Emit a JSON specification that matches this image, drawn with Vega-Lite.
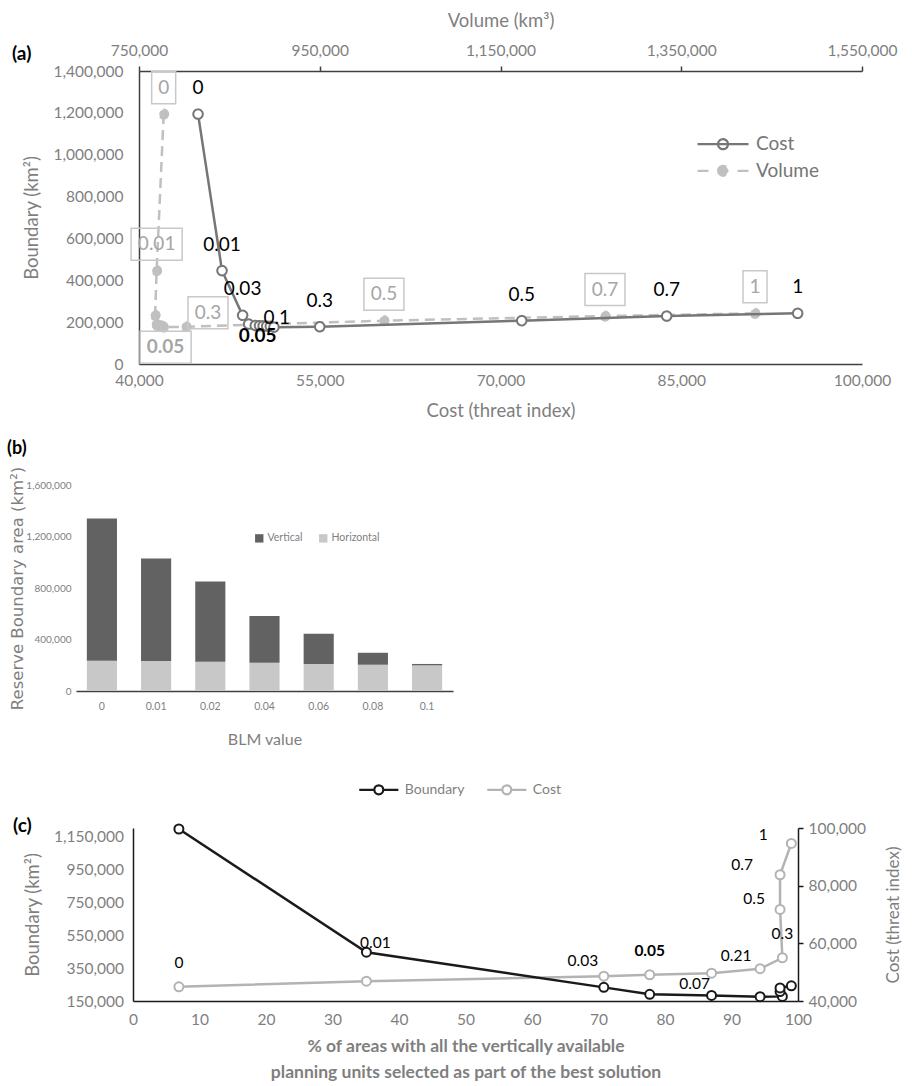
{
  "$schema": "https://vega.github.io/schema/vega-lite/v6.json",
  "padding": {"left": 7, "top": 11, "right": 5, "bottom": 5},
  "background": "white",
  "config": {
    "font": "Lato",
    "view": {"stroke": null},
    "axis": {"grid": false, "labelColor": "#7f7f7f", "titleColor": "#7f7f7f", "labelFlush": false, "labelOverlap": false, "labelBound": false, "titleFontWeight": "normal", "domainColor": "#404040", "domainWidth": 1.5, "tickColor": "#404040", "tickWidth": 1.5, "labelFont": "Lato", "titleFont": "Lato"},
    "legend": {"labelFont": "Lato", "labelColor": "#767676"},
    "title": {"anchor": "start", "frame": "group", "fontWeight": "bold", "fontSize": 19, "color": "#000000", "offset": 0, "font": "Lato"}
  },
  "datasets": {
    "frontier": [
      {"blm": 0, "cost": 44900, "volume": 777300, "boundary": 1194000},
      {"blm": 0.01, "cost": 46890, "volume": 769500, "boundary": 446000},
      {"blm": 0.03, "cost": 48600, "volume": 767800, "boundary": 232700},
      {"blm": 0.05, "cost": 49100, "volume": 769000, "boundary": 190600},
      {"blm": 0.07, "cost": 49650, "volume": 770500, "boundary": 184000},
      {"blm": 0.08, "cost": 50000, "volume": 772000, "boundary": 183000},
      {"blm": 0.09, "cost": 50300, "volume": 773500, "boundary": 182000},
      {"blm": 0.1, "cost": 50600, "volume": 775000, "boundary": 181000},
      {"blm": 0.15, "cost": 50900, "volume": 776000, "boundary": 180000},
      {"blm": 0.21, "cost": 51200, "volume": 777000, "boundary": 176000},
      {"blm": 0.3, "cost": 55000, "volume": 802000, "boundary": 178000},
      {"blm": 0.5, "cost": 71760, "volume": 1021000, "boundary": 207000},
      {"blm": 0.7, "cost": 83790, "volume": 1265600, "boundary": 229000},
      {"blm": 1, "cost": 94660, "volume": 1431600, "boundary": 242000}
    ],
    "bars": [
      {"blm": "0", "part": "Horizontal", "value": 235000},
      {"blm": "0", "part": "Vertical", "value": 1105000},
      {"blm": "0.01", "part": "Horizontal", "value": 233000},
      {"blm": "0.01", "part": "Vertical", "value": 797000},
      {"blm": "0.02", "part": "Horizontal", "value": 228000},
      {"blm": "0.02", "part": "Vertical", "value": 623000},
      {"blm": "0.04", "part": "Horizontal", "value": 220000},
      {"blm": "0.04", "part": "Vertical", "value": 362000},
      {"blm": "0.06", "part": "Horizontal", "value": 210000},
      {"blm": "0.06", "part": "Vertical", "value": 235000},
      {"blm": "0.08", "part": "Horizontal", "value": 204000},
      {"blm": "0.08", "part": "Vertical", "value": 93000},
      {"blm": "0.1", "part": "Horizontal", "value": 199000},
      {"blm": "0.1", "part": "Vertical", "value": 11000}
    ],
    "pct": [
      {"blm": 0, "pct": 6.9, "boundary": 1194000, "cost": 44900},
      {"blm": 0.01, "pct": 35.1, "boundary": 446000, "cost": 46890},
      {"blm": 0.03, "pct": 70.8, "boundary": 232700, "cost": 48600},
      {"blm": 0.05, "pct": 77.7, "boundary": 190600, "cost": 49100},
      {"blm": 0.07, "pct": 87.0, "boundary": 184000, "cost": 49650},
      {"blm": 0.21, "pct": 94.3, "boundary": 176000, "cost": 51200},
      {"blm": 0.3, "pct": 97.65, "boundary": 178000, "cost": 55000},
      {"blm": 0.5, "pct": 97.3, "boundary": 207000, "cost": 71760},
      {"blm": 0.7, "pct": 97.3, "boundary": 229000, "cost": 83790},
      {"blm": 1, "pct": 99.0, "boundary": 242000, "cost": 94660}
    ]
  },
  "spacing": 33,
  "resolve": {"scale": {"fill": "independent", "stroke": "independent", "strokeDash": "independent", "color": "independent", "shape": "independent"}, "legend": {"fill": "independent", "stroke": "independent", "strokeDash": "independent", "color": "independent", "shape": "independent"}},
  "vconcat": [
    {
      "spacing": 20,
      "resolve": {"scale": {"fill": "independent", "stroke": "independent", "strokeDash": "independent", "color": "independent", "shape": "independent"}, "legend": {"fill": "independent", "stroke": "independent", "strokeDash": "independent", "color": "independent", "shape": "independent"}},
      "vconcat": [
        {
          "bounds": "flush",
          "spacing": 0,
          "hconcat": [
            {"width": 63, "height": 1, "data": {"values": []}, "mark": {"type": "point"}},
            {
              "width": 723,
              "height": 293,
              "title": {"text": "(a)", "dx": -127, "dy": 57},
              "data": {"name": "frontier"},
              "resolve": {"scale": {"x": "independent"}, "axis": {"x": "independent"}},
              "layer": [
                {
                  "encoding": {
                    "x": {"field": "volume", "type": "quantitative", "scale": {"domain": [750000, 1550000], "nice": false, "zero": false},
                      "axis": {"orient": "top", "values": [750000, 950000, 1150000, 1350000, 1550000], "format": ",.0f", "title": "Volume (km³)", "titleFontSize": 18.5, "labelFontSize": 15.5, "ticks": true, "tickSize": 5, "labelPadding": 8, "titlePadding": 13}},
                    "y": {"field": "boundary", "type": "quantitative", "scale": {"domain": [0, 1400000], "nice": false},
                      "axis": {"values": [0, 200000, 400000, 600000, 800000, 1000000, 1200000, 1400000], "format": ",.0f", "title": "Boundary (km²)", "titleFontSize": 18.5, "labelFontSize": 15.5, "ticks": false, "tickSize": 0, "labelPadding": 16, "titlePadding": 12}}
                  },
                  "layer": [
                    {"mark": {"type": "line", "color": "#c0c0c0", "strokeWidth": 2.5, "strokeDash": [10, 6]}, "encoding": {"order": {"field": "blm", "type": "quantitative"}}},
                    {"mark": {"type": "point", "shape": "circle", "filled": true, "size": 80, "strokeWidth": 2.2, "opacity": 1},
                      "encoding": {
                        "fill": {"datum": "Volume", "scale": {"domain": ["Cost", "Volume"], "range": ["#ffffff", "#c0c0c0"]},
                          "legend": {"orient": "none", "legendX": 635.5, "legendY": 61.7, "direction": "vertical", "title": null, "symbolSize": 400, "symbolStrokeWidth": 2.2, "labelFontSize": 19, "labelColor": "#767676", "labelOffset": 21.5, "rowPadding": 4.6, "padding": 0,
                            "symbolType": "M-2.55,0H2.55M-0.5,0A0.5,0.5 0 1,1 0.5,0A0.5,0.5 0 1,1 -0.5,0Z"}},
                        "stroke": {"datum": "Volume", "scale": {"domain": ["Cost", "Volume"], "range": ["#767676", "#c0c0c0"]}},
                        "strokeDash": {"datum": "Volume", "scale": {"domain": ["Cost", "Volume"], "range": [[1, 0], [11, 9]]}}
                      }},
                    {"transform": [{"filter": {"field": "blm", "oneOf": [0, 0.01, 0.3, 0.05, 0.5, 0.7, 1]}}],
                      "mark": {"type": "point", "filled": false, "size": 256, "color": "#c8c8c8", "strokeWidth": 1.5, "opacity": 1},
                      "encoding": {"shape": {"field": "blm", "type": "nominal", "legend": null,
                        "scale": {"domain": [0, 1, 0.5, 0.7, 0.01, 0.3, 0.05],
                          "range": ["M-1.5,-5.31H1.5V-1.31H-1.5Z", "M-1.5,-5.31H1.5V-1.31H-1.5Z", "M-2.5,-5.31H2.5V-1.31H-2.5Z", "M-2.5,-5.31H2.5V-1.31H-2.5Z", "M-3.19,-5.31H3.19V-1.31H-3.19Z", "M0.25,-3.75H5.25V0.25H0.25Z", "M-2.01,0.88H4.37V4.88H-2.01Z"]}}}},
                    {"transform": [{"filter": {"field": "blm", "oneOf": [0, 0.01, 0.5, 0.7, 1]}}],
                      "mark": {"type": "text", "dy": -26.5, "fontSize": 19, "color": "#a6a6a6"}, "encoding": {"text": {"field": "blm", "type": "nominal"}}},
                    {"transform": [{"filter": {"field": "blm", "equal": 0.3}}],
                      "mark": {"type": "text", "dx": 22, "dy": -14, "fontSize": 19, "color": "#a6a6a6"}, "encoding": {"text": {"field": "blm", "type": "nominal"}}},
                    {"transform": [{"filter": {"field": "blm", "equal": 0.05}}],
                      "mark": {"type": "text", "dx": 9.4, "dy": 23, "fontSize": 19, "fontWeight": "bold", "color": "#a6a6a6"}, "encoding": {"text": {"field": "blm", "type": "nominal"}}}
                  ]
                },
                {
                  "encoding": {
                    "x": {"field": "cost", "type": "quantitative", "scale": {"domain": [40000, 100000], "nice": false, "zero": false},
                      "axis": {"orient": "bottom", "values": [40000, 55000, 70000, 85000, 100000], "format": ",.0f", "title": "Cost (threat index)", "titleFontSize": 18.5, "labelFontSize": 15.5, "ticks": false, "tickSize": 0, "labelPadding": 9, "titlePadding": 13}},
                    "y": {"field": "boundary", "type": "quantitative"}
                  },
                  "layer": [
                    {"mark": {"type": "line", "color": "#767676", "strokeWidth": 2.5}, "encoding": {"order": {"field": "blm", "type": "quantitative"}}},
                    {"mark": {"type": "point", "shape": "circle", "filled": true, "size": 90, "strokeWidth": 2, "opacity": 1},
                      "encoding": {"fill": {"datum": "Cost"}, "stroke": {"datum": "Cost"}, "strokeDash": {"datum": "Cost"}}},
                    {"transform": [{"filter": {"field": "blm", "oneOf": [0, 0.01, 0.03, 0.3, 0.5, 0.7, 1]}}],
                      "mark": {"type": "text", "dy": -26, "fontSize": 19, "color": "#000000"}, "encoding": {"text": {"field": "blm", "type": "nominal"}}},
                    {"transform": [{"filter": {"field": "blm", "equal": 0.05}}],
                      "mark": {"type": "text", "dx": 9, "dy": 12, "fontSize": 19, "fontWeight": "bold", "color": "#000000"}, "encoding": {"text": {"field": "blm", "type": "nominal"}}},
                    {"transform": [{"filter": {"field": "blm", "equal": 0.1}}],
                      "mark": {"type": "text", "dx": 10, "dy": -8, "fontSize": 19, "color": "#000000"}, "encoding": {"text": {"field": "blm", "type": "nominal"}}}
                  ]
                }
              ]
            }
          ]
        },
        {
          "width": 377,
          "height": 206,
          "title": {"text": "(b)", "dx": -69, "offset": 8, "fontSize": 18},
          "data": {"name": "bars"},
          "mark": {"type": "bar"},
          "encoding": {
            "x": {"field": "blm", "type": "nominal", "sort": null, "scale": {"paddingInner": 0.444, "paddingOuter": 0.2},
              "axis": {"title": "BLM value", "labelAngle": 0, "ticks": false, "tickSize": 0, "labelPadding": 10, "labelFontSize": 10.5, "titleFontSize": 16, "titlePadding": 20}},
            "y": {"field": "value", "type": "quantitative", "stack": "zero", "scale": {"domain": [0, 1600000], "nice": false},
              "axis": {"values": [0, 400000, 800000, 1200000, 1600000], "format": ",.0f", "domain": false, "ticks": false, "tickSize": 0, "labelPadding": 5, "labelFontSize": 10, "title": "Reserve Boundary area (km²)", "titleFont": "DejaVu Sans", "titleFontSize": 16.5, "titlePadding": 0}},
            "color": {"field": "part", "type": "nominal", "scale": {"domain": ["Vertical", "Horizontal"], "range": ["#626262", "#c8c8c8"]},
              "legend": {"orient": "none", "legendX": 178, "legendY": 48, "direction": "horizontal", "title": null, "symbolType": "square", "symbolSize": 70, "labelFontSize": 10.5, "labelColor": "#7f7f7f", "labelOffset": 3, "columnPadding": 15, "padding": 0}},
            "order": {"field": "part", "sort": "ascending"}
          }
        }
      ]
    },
    {
      "bounds": "flush",
      "spacing": 0,
      "hconcat": [
        {"width": 56.3, "height": 1, "data": {"values": []}, "mark": {"type": "point"}},
        {
          "width": 665,
          "height": 173,
          "title": {"text": "(c)", "dx": -120, "dy": 20},
          "data": {"name": "pct"},
          "resolve": {"scale": {"y": "independent"}, "axis": {"y": "independent"}},
          "layer": [
            {
              "encoding": {
                "x": {"field": "pct", "type": "quantitative", "scale": {"domain": [0, 100], "nice": false},
                  "axis": {"values": [0, 10, 20, 30, 40, 50, 60, 70, 80, 90, 100], "title": ["% of areas with all the vertically available", "planning units selected as part of the best solution"], "titleFontWeight": "bold", "titleFontSize": 17.5, "titleLineHeight": 26, "labelFontSize": 15.5, "ticks": false, "tickSize": 0, "labelPadding": 11, "titlePadding": 10, "domainColor": "#1a1a1a"}},
                "y": {"field": "cost", "type": "quantitative", "scale": {"domain": [40000, 100000], "nice": false, "zero": false},
                  "axis": {"orient": "right", "values": [40000, 60000, 80000, 100000], "format": ",.0f", "title": "Cost (threat index)", "titleAngle": -90, "titleFontSize": 17, "labelFontSize": 15.5, "ticks": true, "tickSize": 5, "labelPadding": 5, "titlePadding": 37, "domainColor": "#1a1a1a", "tickColor": "#1a1a1a"}}
              },
              "layer": [
                {"mark": {"type": "line", "color": "#b3b3b3", "strokeWidth": 2.5}, "encoding": {"order": {"field": "blm", "type": "quantitative"}}},
                {"mark": {"type": "point", "shape": "circle", "filled": true, "size": 81, "strokeWidth": 2, "opacity": 1},
                  "encoding": {
                    "fill": {"datum": "Cost", "scale": {"domain": ["Boundary", "Cost"], "range": ["#ffffff", "#ffffff"]},
                      "legend": {"orient": "none", "legendX": 294.3, "legendY": -47, "direction": "horizontal", "title": null, "symbolSize": 196, "symbolStrokeWidth": 2.2, "labelFontSize": 14, "labelColor": "#7f7f7f", "labelOffset": 17.5, "columnPadding": 17, "padding": 0,
                        "symbolType": "M-2.79,0H-0.64M0.64,0H2.79M-0.64,0A0.64,0.64 0 1,1 0.64,0A0.64,0.64 0 1,1 -0.64,0Z"}},
                    "stroke": {"datum": "Cost", "scale": {"domain": ["Boundary", "Cost"], "range": ["#1a1a1a", "#b3b3b3"]}}
                  }},
                {"transform": [{"filter": {"field": "blm", "oneOf": [0, 0.3]}}],
                  "mark": {"type": "text", "dy": -24, "fontSize": 15.5, "color": "#000000"}, "encoding": {"text": {"field": "blm", "type": "nominal"}}},
                {"transform": [{"filter": {"field": "blm", "equal": 0.05}}],
                  "mark": {"type": "text", "dy": -24, "fontSize": 15.5, "fontWeight": "bold", "color": "#000000"}, "encoding": {"text": {"field": "blm", "type": "nominal"}}},
                {"transform": [{"filter": {"field": "blm", "equal": 0.03}}],
                  "mark": {"type": "text", "dx": -21, "dy": -15, "fontSize": 15.5, "color": "#000000"}, "encoding": {"text": {"field": "blm", "type": "nominal"}}},
                {"transform": [{"filter": {"field": "blm", "equal": 0.21}}],
                  "mark": {"type": "text", "dx": -24, "dy": -13, "fontSize": 15.5, "color": "#000000"}, "encoding": {"text": {"field": "blm", "type": "nominal"}}},
                {"transform": [{"filter": {"field": "blm", "equal": 0.5}}],
                  "mark": {"type": "text", "dx": -26, "dy": -10, "fontSize": 15.5, "color": "#000000"}, "encoding": {"text": {"field": "blm", "type": "nominal"}}},
                {"transform": [{"filter": {"field": "blm", "equal": 0.7}}],
                  "mark": {"type": "text", "dx": -38, "dy": -10, "fontSize": 15.5, "color": "#000000"}, "encoding": {"text": {"field": "blm", "type": "nominal"}}},
                {"transform": [{"filter": {"field": "blm", "equal": 1}}],
                  "mark": {"type": "text", "dx": -28, "dy": -8, "fontSize": 15.5, "color": "#000000"}, "encoding": {"text": {"field": "blm", "type": "nominal"}}}
              ]
            },
            {
              "encoding": {
                "x": {"field": "pct", "type": "quantitative"},
                "y": {"field": "boundary", "type": "quantitative", "scale": {"domain": [150000, 1200000], "nice": false, "zero": false},
                  "axis": {"orient": "left", "values": [150000, 350000, 550000, 750000, 950000, 1150000], "format": ",.0f", "title": "Boundary (km²)", "titleFontSize": 18.5, "labelFontSize": 15.5, "ticks": false, "tickSize": 0, "labelPadding": 9.6, "titlePadding": 11, "domainColor": "#1a1a1a"}}
              },
              "layer": [
                {"mark": {"type": "line", "color": "#1a1a1a", "strokeWidth": 2.5}, "encoding": {"order": {"field": "blm", "type": "quantitative"}}},
                {"mark": {"type": "point", "shape": "circle", "filled": true, "size": 81, "strokeWidth": 2, "opacity": 1},
                  "encoding": {"fill": {"datum": "Boundary"}, "stroke": {"datum": "Boundary"}}},
                {"transform": [{"filter": {"field": "blm", "equal": 0.01}}],
                  "mark": {"type": "text", "dx": 9, "dy": -9, "fontSize": 15.5, "color": "#000000"}, "encoding": {"text": {"field": "blm", "type": "nominal"}}},
                {"transform": [{"filter": {"field": "blm", "equal": 0.07}}],
                  "mark": {"type": "text", "dx": -17, "dy": -11, "fontSize": 15.5, "color": "#000000"}, "encoding": {"text": {"field": "blm", "type": "nominal"}}}
              ]
            }
          ]
        }
      ]
    }
  ]
}
